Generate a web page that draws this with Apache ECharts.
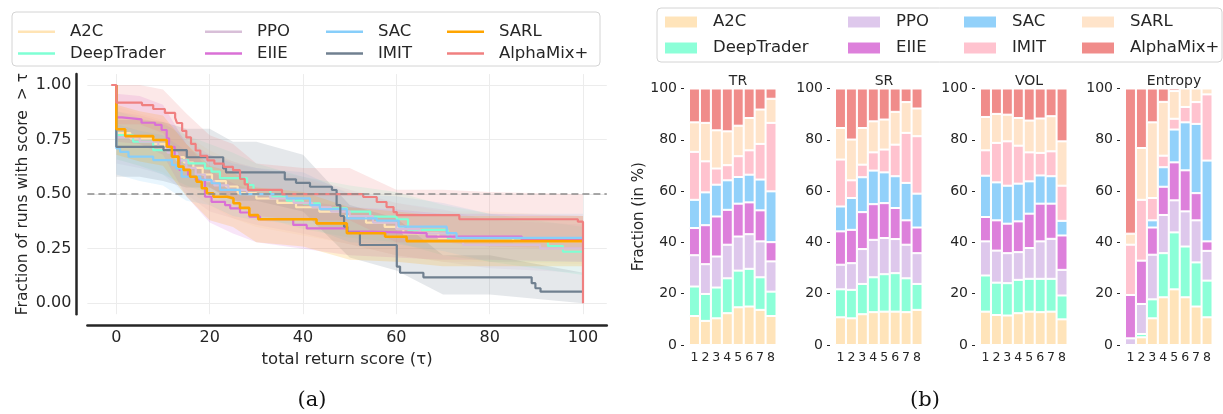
<!DOCTYPE html>
<html><head><meta charset="utf-8">
<script src="https://cdn.jsdelivr.net/npm/echarts@6/dist/echarts.min.js"></script>
<style>html,body{margin:0;padding:0;background:#fff}#c{width:1223px;height:414px}</style>
</head><body><div id="c"></div>
<script>
// ---------- categories ----------
const methods = ['A2C','DeepTrader','PPO','EIIE','SAC','IMIT','SARL','AlphaMix+'];
const lineColors = ['#FFE4B5','#7FFFD4','#D8BFD8','#DA70D6','#87CEFA','#708090','#FFA500','#F08080'];
const barColors  = ['#FFE4BA','#8CFFD8','#DEC8EC','#DD80DB','#92D1FA','#FFC3CF','#FFE4CA','#F08C8A'];
const xTicks = [0,20,40,60,80,100];
const yTicks = [0,0.25,0.5,0.75,1];

// ---------- (a) survival curves: [tau, fraction] ----------
const curveA2C  = [[0,1],[0,0.78],[3,0.755],[8,0.73],[10.5,0.70],[12.5,0.67],[14.5,0.645],[16.5,0.62],[18.5,0.59],[20.5,0.56],[23.5,0.535],[26,0.505],[30,0.48],[34.5,0.46],[38.5,0.44],[43.5,0.42],[48,0.40],[53.5,0.37],[57.5,0.35],[61.5,0.32],[69,0.30],[85,0.285],[100,0.285]];
const curveDT   = [[0,1],[0,0.771],[3.6,0.74],[7.9,0.702],[11.9,0.679],[12.9,0.656],[15.4,0.641],[19,0.618],[20.4,0.603],[22.2,0.573],[28,0.542],[29.4,0.519],[33,0.488],[36.5,0.47],[40,0.458],[43.6,0.435],[49.4,0.42],[54.4,0.397],[60.1,0.385],[62.5,0.336],[71,0.298],[92.5,0.262],[95.7,0.236],[100,0.236]];
const curvePPO  = [[0,1],[0,0.76],[5,0.74],[9,0.715],[11,0.69],[13,0.655],[15,0.62],[17,0.59],[19,0.56],[21,0.54],[24,0.52],[28,0.50],[33,0.48],[38,0.46],[42,0.44],[46,0.42],[50,0.40],[55,0.37],[60,0.34],[65,0.32],[72,0.30],[74.3,0.267],[90.8,0.252],[100,0.252]];
const curveEIIE = [[0,1],[0,0.852],[1.2,0.843],[5.4,0.827],[8.3,0.817],[9.7,0.794],[10.8,0.756],[11.3,0.717],[12.5,0.672],[13.5,0.611],[15.4,0.58],[17,0.565],[19,0.488],[20.4,0.465],[23.3,0.45],[24.4,0.435],[26.5,0.416],[28.5,0.397],[30.8,0.385],[37.9,0.359],[40.8,0.343],[49.4,0.328],[54.4,0.321],[66.5,0.305],[86.9,0.29],[100,0.29]];
const curveSAC  = [[0,1],[0,0.71],[0.8,0.694],[2.6,0.672],[7.9,0.656],[11.9,0.634],[12.8,0.618],[14,0.58],[18,0.565],[20.4,0.55],[22.2,0.52],[26.5,0.50],[36.5,0.481],[41.5,0.45],[43.6,0.431],[49.4,0.389],[55.8,0.379],[60.5,0.351],[70.8,0.321],[72.9,0.30],[100,0.30]];
const curveIMIT = [[0,1],[0,0.717],[10.1,0.702],[15.1,0.669],[22.9,0.618],[23.5,0.60],[36.1,0.568],[38.5,0.552],[41.5,0.534],[46.2,0.519],[47.2,0.45],[48,0.40],[48.8,0.351],[49.5,0.323],[52.2,0.267],[60.1,0.168],[60.8,0.14],[65.8,0.119],[89,0.092],[89.8,0.069],[90.9,0.053],[100,0.053]];
const curveSARL = [[0,1],[0,0.797],[1.9,0.766],[7.9,0.748],[10.8,0.717],[11.9,0.672],[13.3,0.626],[14.4,0.611],[15.8,0.58],[17.2,0.557],[18.3,0.527],[19.4,0.504],[20.8,0.488],[23.7,0.481],[25.1,0.458],[26.5,0.437],[28.5,0.404],[30.4,0.385],[42.9,0.366],[49.4,0.321],[57.6,0.305],[62.2,0.285],[100,0.285]];
const curveAMX  = [[-1.1,1.0],[0,0.919],[5.5,0.908],[7.9,0.89],[10.4,0.872],[12.6,0.85],[13.0,0.826],[14.1,0.79],[15,0.76],[16,0.73],[17,0.70],[18,0.675],[19.5,0.655],[21,0.64],[23,0.625],[25,0.61],[26.5,0.57],[27.5,0.545],[28.2,0.52],[35.5,0.50],[52.9,0.487],[55.8,0.464],[57.9,0.441],[59.4,0.418],[60.1,0.404],[73.5,0.385],[98.9,0.374],[100,0]];

// ---------- (a) confidence bands ----------
const bandTau = [0,5,10,15,20,25,30,40,50,60,70,80,100];
const bandA2CLo  = [0.66,0.63,0.60,0.52,0.45,0.39,0.35,0.31,0.27,0.22,0.19,0.19,0.18];
const bandA2CHi  = [0.90,0.87,0.84,0.77,0.70,0.65,0.61,0.57,0.51,0.46,0.42,0.42,0.40];
const bandDTLo   = [0.66,0.63,0.59,0.54,0.50,0.45,0.40,0.34,0.30,0.28,0.22,0.19,0.13];
const bandDTHi   = [0.88,0.85,0.82,0.77,0.73,0.69,0.64,0.58,0.54,0.51,0.45,0.41,0.35];
const bandPPOLo  = [0.64,0.62,0.59,0.50,0.42,0.39,0.36,0.32,0.27,0.22,0.19,0.16,0.14];
const bandPPOHi  = [0.88,0.86,0.83,0.75,0.68,0.65,0.62,0.58,0.52,0.46,0.43,0.38,0.36];
const bandEIIELo = [0.74,0.73,0.68,0.49,0.37,0.32,0.28,0.25,0.22,0.21,0.20,0.20,0.19];
const bandEIIEHi = [0.96,0.95,0.91,0.73,0.61,0.55,0.51,0.47,0.44,0.43,0.41,0.41,0.40];
const bandSACLo  = [0.59,0.56,0.54,0.47,0.45,0.40,0.38,0.36,0.28,0.27,0.24,0.19,0.19];
const bandSACHi  = [0.82,0.79,0.77,0.70,0.68,0.64,0.62,0.60,0.50,0.49,0.46,0.41,0.41];
const bandIMITLo = [0.58,0.58,0.56,0.53,0.53,0.47,0.47,0.42,0.21,0.15,0.04,0.04,0.00];
const bandIMITHi = [0.84,0.84,0.83,0.80,0.80,0.74,0.74,0.68,0.45,0.39,0.22,0.22,0.14];
const bandSARLLo = [0.68,0.65,0.63,0.49,0.38,0.35,0.28,0.26,0.20,0.19,0.17,0.17,0.17];
const bandSARLHi = [0.91,0.88,0.86,0.73,0.63,0.60,0.53,0.51,0.44,0.42,0.40,0.40,0.40];
const bandAMXLo  = [0.82,0.82,0.78,0.64,0.53,0.48,0.40,0.38,0.38,0.28,0.28,0.26,0.25];
const bandAMXHi  = [1.00,1.00,0.98,0.87,0.77,0.73,0.64,0.62,0.62,0.52,0.52,0.51,0.50];

// ---------- (b) stacked fractions (rows: methods in order, cols: runs 1..8) ----------
const runs = ['1','2','3','4','5','6','7','8'];
const panelTitles = ['TR','SR','VOL','Entropy'];
const fracTR = [
  [11.3, 9.4,10.4,12.4,14.7,15.0,13.7,11.3],
  [11.5,10.5,12.0,13.6,14.3,14.7,12.7, 9.5],
  [12.2,11.6,12.1,13.1,13.3,13.5,14.0,11.8],
  [10.6,15.2,15.6,13.6,12.8,12.4,12.1, 7.5],
  [11.0,12.8,12.4,11.5,10.4,10.8,12.0,19.8],
  [18.7,12.1, 6.3, 5.9, 8.1, 9.5,13.9,26.7],
  [11.5,15.0,14.9,13.2,11.9,12.6,13.4, 9.4],
  [13.2,13.4,16.3,16.7,14.5,11.5, 8.2, 4.0]];
const fracSR = [
  [10.8,10.4,12.0,12.8,13.0,13.0,12.8,13.7],
  [10.9,11.1,11.8,13.6,14.6,15.0,13.2,10.1],
  [ 9.6,10.4,13.6,14.6,14.1,13.3,13.1,12.0],
  [13.0,13.0,14.4,13.9,13.6,12.1, 9.5,10.0],
  [ 9.7,12.4,13.6,13.1,12.0,12.4,14.6,13.2],
  [18.3, 6.9, 4.9, 7.1, 8.9,12.3,19.5,22.4],
  [12.3,15.9,14.3,12.1,11.7,12.8,12.0,10.8],
  [15.4,19.9,15.4,12.8,12.1, 9.1, 5.3, 7.8]];
const fracVOL = [
  [13.0,11.7,11.5,12.4,13.0,12.8,13.0,10.0],
  [14.1,12.6,12.6,13.0,12.8,13.0,12.8, 9.3],
  [13.3,12.5,11.7,10.8,12.0,14.6,15.6,10.0],
  [ 9.5,11.8,11.5,12.0,13.4,14.7,13.7,13.4],
  [16.1,14.8,14.8,14.7,12.6,11.0,10.7, 5.7],
  [ 9.9,15.4,17.3,14.8,11.3, 8.8, 9.7,13.7],
  [13.0,11.3,10.4,10.8,12.4,13.4,13.7,17.3],
  [11.1, 9.9,10.2,11.5,12.5,11.7,10.8,20.6]];
const fracEntropy = [
  [ 0.0, 3.0,10.4,18.6,21.7,18.6,15.0,10.8],
  [ 0.0, 1.3, 7.4,17.2,22.2,19.8,17.2,14.3],
  [ 2.6,11.7,17.4,14.9,12.5,13.7,16.4,11.6],
  [16.9,16.9,10.6,11.0,14.8,16.0,10.6, 3.7],
  [ 0.0, 0.0, 2.8, 7.6,12.8,18.7,27.0,31.5],
  [19.6,23.7, 8.7, 4.5, 4.2, 6.0, 8.5,25.8],
  [ 4.3,20.2,29.5,21.0,10.8, 7.2, 5.3, 2.3],
  [56.6,23.2,13.2, 5.2, 1.0, 0.0, 0.0, 0.0]];

const curves = [curveA2C,curveDT,curvePPO,curveEIIE,curveSAC,curveIMIT,curveSARL,curveAMX];
const bandsLo = [bandA2CLo,bandDTLo,bandPPOLo,bandEIIELo,bandSACLo,bandIMITLo,bandSARLLo,bandAMXLo];
const bandsHi = [bandA2CHi,bandDTHi,bandPPOHi,bandEIIEHi,bandSACHi,bandIMITHi,bandSARLHi,bandAMXHi];
const panels = [fracTR,fracSR,fracVOL,fracEntropy];

// ---------- layout ----------
const FONT = 'DejaVu Sans';
const TXT = '#262626';
const chart = echarts.init(document.getElementById('c'), null, {renderer:'canvas'});

const grids = [{left:87.4, top:74.1, width:519.4, height:240.1, outerBoundsMode:'none'}];
const xAxes = [{
  type:'value', gridIndex:0, min:-6.2, max:105.1, offset:11,
  axisLine:{show:true, onZero:false, lineStyle:{color:TXT, width:2.5}},
  axisTick:{show:false, customValues:xTicks},
  axisLabel:{customValues:xTicks, color:TXT, fontSize:16, fontFamily:FONT, margin:5},
  splitLine:{show:true, lineStyle:{color:'#ececec', width:1}},
  name:'total return score (τ)', nameLocation:'middle', nameGap:22,
  nameTextStyle:{color:TXT, fontSize:16.5, fontFamily:FONT}
}];
const yAxes = [{
  type:'value', gridIndex:0, min:-0.05, max:1.05, offset:11,
  axisLine:{show:true, onZero:false, lineStyle:{color:TXT, width:2.5}},
  axisTick:{show:false, customValues:yTicks},
  axisLabel:{customValues:yTicks, color:TXT, fontSize:16, fontFamily:FONT, margin:5,
             formatter:v => v.toFixed(2)},
  splitLine:{show:true, lineStyle:{color:'#ececec', width:1}},
  name:'Fraction of runs with score  > τ', nameLocation:'middle', nameGap:45, nameRotate:90,
  nameTextStyle:{color:TXT, fontSize:15.5, fontFamily:FONT}
}];

const panelLeft = [689, 835, 980, 1125];
panelLeft.forEach((l, i) => {
  grids.push({left:l, top:88.5, width:87.5, height:256.5, outerBoundsMode:'none'});
  xAxes.push({type:'category', gridIndex:i+1, data:runs,
    axisLine:{show:false}, axisTick:{show:false},
    axisLabel:{color:TXT, fontSize:12.5, fontFamily:FONT, margin:6, interval:0}});
  const ya = {type:'value', gridIndex:i+1, min:0, max:100, interval:20, offset:5,
    axisLine:{show:false}, axisTick:{show:true, length:3, lineStyle:{color:TXT, width:1}},
    axisLabel:{color:TXT, fontSize:14, fontFamily:FONT, margin:7},
    splitLine:{show:false}};
  if (i === 0) {
    ya.name = 'Fraction (in %)'; ya.nameLocation = 'middle'; ya.nameRotate = 90; ya.nameGap = 37;
    ya.nameTextStyle = {color:TXT, fontSize:15, fontFamily:FONT};
  }
  yAxes.push(ya);
});

const series = [];
// confidence bands: one polygon per method, built from the band arrays via api.coord
methods.forEach((m, i) => {
  const rows = bandTau.map((t, k) => [t, bandsLo[i][k], bandsHi[i][k]]);
  series.push({type:'custom', name:m+'_band', xAxisIndex:0, yAxisIndex:0, silent:true, z:1,
    encode:{x:0, y:[1,2]}, data:rows, clip:true,
    renderItem:(params, api) => {
      if (params.dataIndex !== 0) return {type:'group', children:[]};
      const top = rows.map(r => api.coord([r[0], r[2]]));
      const bot = rows.map(r => api.coord([r[0], r[1]])).reverse();
      return {type:'polygon', shape:{points:top.concat(bot)},
        style:{fill:lineColors[i], opacity:0.18}};
    }});
});
// curves
methods.forEach((m, i) => {
  const s = {type:'line', name:m, xAxisIndex:0, yAxisIndex:0, step:'end', data:curves[i],
    showSymbol:false, symbol:'none', color:lineColors[i],
    lineStyle:{color:lineColors[i], width: m === 'SARL' ? 2.6 : 2.2}, z:3 + i * 0.01};
  if (i === 0) {
    s.markLine = {symbol:'none', silent:true, label:{show:false},
      lineStyle:{color:'#8c8c8c', type:[7,4], width:1.6}, data:[{yAxis:0.5}]};
  }
  series.push(s);
});
// stacked bars
panels.forEach((p, pi) => {
  methods.forEach((m, i) => {
    series.push({type:'bar', name:m+' ', xAxisIndex:pi+1, yAxisIndex:pi+1, stack:'p'+pi,
      data:p[i], color:barColors[i], barCategoryGap:'0%',
      itemStyle:{color:barColors[i], borderColor:'#ffffff', borderWidth:1}});
  });
});

// legends: one component per entry, laid out in 4 columns x 2 rows
const legends = [];
const leftColX = [18, 205, 326, 447];
const rightColX = [663, 846, 962, 1080];
methods.forEach((m, i) => {
  const col = Math.floor(i / 2), row = i % 2;
  legends.push({orient:'vertical', left:leftColX[col], top:[23.3, 45][row], padding:0,
    icon:'rect', itemWidth:37, itemHeight:2.5, selectedMode:false,
    data:[{name:m, itemStyle:{color:lineColors[i]}}],
    textStyle:{color:TXT, fontSize:16.5, fontFamily:FONT, padding:[0,0,0,10]}});
  legends.push({orient:'vertical', left:rightColX[col], top:[13.5, 39.5][row], padding:0,
    icon:'rect', itemWidth:34, itemHeight:13, selectedMode:false,
    data:[{name:m+' ', itemStyle:{color:barColors[i]}}],
    textStyle:{color:TXT, fontSize:16.5, fontFamily:FONT, padding:[0,0,0,10]}});
});

const titles = panelTitles.map((t, i) => ({text:t, left:panelLeft[i] + 44, top:69, textAlign:'center',
  textStyle:{color:TXT, fontSize:14, fontWeight:'normal', fontFamily:FONT}}));

chart.setOption({
  animation:false,
  backgroundColor:'#ffffff',
  title:titles,
  grid:grids, xAxis:xAxes, yAxis:yAxes, series:series, legend:legends,
  graphic:[
    {type:'rect', shape:{x:12, y:12, width:588, height:54, r:4}, style:{fill:'#ffffff', stroke:'#d4d4d4', lineWidth:1}, z:-1, silent:true},
    {type:'rect', shape:{x:657, y:8, width:565, height:54, r:4}, style:{fill:'#ffffff', stroke:'#d4d4d4', lineWidth:1}, z:-1, silent:true},
    {type:'text', x:312, y:401, style:{text:'(a)', fill:'#111', font:'21px "DejaVu Serif"', textAlign:'center', textVerticalAlign:'middle'}, silent:true},
    {type:'text', x:925, y:401, style:{text:'(b)', fill:'#111', font:'21px "DejaVu Serif"', textAlign:'center', textVerticalAlign:'middle'}, silent:true}
  ]
});
</script></body></html>
